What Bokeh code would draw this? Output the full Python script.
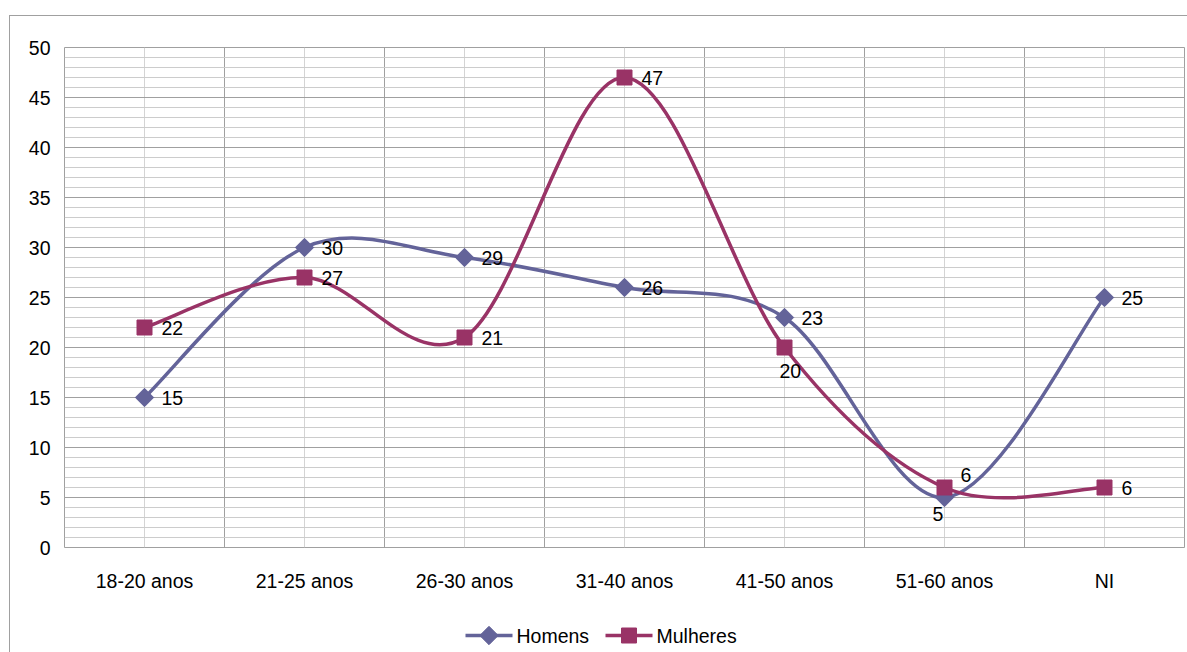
import numpy as np
from bokeh.plotting import figure
from bokeh.layouts import column
from bokeh.models import FixedTicker, ColumnDataSource
from bokeh.core.properties import value
from bokeh.embed import file_html
from bokeh.resources import INLINE

categories = ["18-20 anos", "21-25 anos", "26-30 anos", "31-40 anos", "41-50 anos", "51-60 anos", "NI"]
homens = [15, 30, 29, 26, 23, 5, 25]
mulheres = [22, 27, 21, 47, 20, 6, 6]
series_names = ["Homens", "Mulheres"]

# label offsets (screen px): default right of point
hom_dx = [17, 17, 17, 17, 17, -12, 17]
hom_dy = [0, 0, 0, 0, 0, 16, 0]
mul_dx = [17, 17, 17, 17, -5, 16, 17]
mul_dy = [0, 0, 0, 0, 23, -13, 0]

COL_H = "#636399"
COL_M = "#993366"
FONT = "Liberation Sans"
FS = "19.5px"
W = 1177
FRAME_W = 1120

xs = [i + 0.5 for i in range(len(categories))]

p = figure(width=W, height=600, x_range=(0, 7), y_range=(0, 50),
           output_backend="svg", toolbar_location=None,
           min_border_left=54, min_border_right=3, min_border_top=31, min_border_bottom=69)
p.background_fill_color = "white"
p.border_fill_color = "white"
p.outline_line_color = "#A0A0A0"
p.outline_line_width = 1

# axes
p.xaxis.ticker = FixedTicker(ticks=xs)
p.xaxis.major_label_overrides = {x: c for x, c in zip(xs, categories)}
p.yaxis.ticker = FixedTicker(ticks=list(range(0, 51, 5)))
for ax in (p.xaxis, p.yaxis):
    ax.axis_line_color = None
    ax.major_tick_line_color = None
    ax.minor_tick_line_color = None
    ax.major_tick_out = 0
    ax.major_tick_in = 0
    ax.major_label_text_font = FONT
    ax.major_label_text_font_size = FS
    ax.major_label_text_color = "black"
p.yaxis.major_label_standoff = 14
p.xaxis.major_label_standoff = 22

# grids
p.xgrid.ticker = FixedTicker(ticks=list(range(0, 8)), minor_ticks=xs)
p.xgrid.grid_line_color = "#A0A0A0"
p.xgrid.minor_grid_line_color = "#D4D4D4"
p.ygrid.ticker = FixedTicker(ticks=list(range(0, 51, 5)), minor_ticks=list(range(0, 51)))
p.ygrid.grid_line_color = "#A0A0A0"
p.ygrid.minor_grid_line_color = "#CCCCCC"


def bezier_source(xv, yv):
    P = np.column_stack([xv, yv]).astype(float)
    n = len(P)
    d = {k: [] for k in ("x0", "y0", "x1", "y1", "cx0", "cy0", "cx1", "cy1")}
    for i in range(n - 1):
        pm = P[i - 1] if i > 0 else P[i]
        p0 = P[i]
        p1 = P[i + 1]
        pp = P[i + 2] if i + 2 < n else P[i + 1]
        c0 = p0 + (p1 - pm) / 6.0
        c1 = p1 - (pp - p0) / 6.0
        d["x0"].append(p0[0]); d["y0"].append(p0[1])
        d["x1"].append(p1[0]); d["y1"].append(p1[1])
        d["cx0"].append(c0[0]); d["cy0"].append(c0[1])
        d["cx1"].append(c1[0]); d["cy1"].append(c1[1])
    return ColumnDataSource(d)


# legend strip (separate small figure; its frame is aligned with the main frame)
leg = figure(width=W, height=36, x_range=(0, FRAME_W), y_range=(0, 36),
             output_backend="svg", toolbar_location=None,
             x_axis_type=None, y_axis_type=None,
             min_border=0, min_border_left=0, min_border_right=0,
             min_border_top=0, min_border_bottom=0)
leg.outline_line_color = None
leg.grid.visible = False
leg.background_fill_color = "white"
leg.border_fill_color = "white"
LEG_X0 = [401, 541]   # start of each legend item (px from frame left)
LEG_Y = 17
GLW = 47

styles = [("square", 13, np.pi / 4), ("square", 15, 0.0)]
for k, (name, vals, col, dx, dy) in enumerate([
        ("Homens", homens, COL_H, hom_dx, hom_dy),
        ("Mulheres", mulheres, COL_M, mul_dx, mul_dy)]):
    marker, msize, angle = styles[k]
    p.bezier(x0="x0", y0="y0", x1="x1", y1="y1", cx0="cx0", cy0="cy0", cx1="cx1", cy1="cy1",
             source=bezier_source(xs, vals), line_color=col, line_width=3.5)
    p.scatter(x=xs, y=vals, marker=marker, size=msize, angle=angle,
              fill_color=col, line_color=col)
    p.text(x=xs, y=vals, text=[str(v) for v in vals], x_offset=dx, y_offset=dy,
           text_font=value(FONT), text_font_size=FS, text_color="black",
           text_align="left", text_baseline="middle")
    # legend entry
    x0 = LEG_X0[k]
    leg.line(x=[x0, x0 + GLW], y=[LEG_Y, LEG_Y], line_color=col, line_width=3.5)
    leg.scatter(x=[x0 + GLW / 2], y=[LEG_Y], marker=marker, size=msize, angle=angle,
                fill_color=col, line_color=col)
    leg.text(x=[x0 + GLW + 4], y=[LEG_Y], text=[series_names[k]],
             text_font=value(FONT), text_font_size=FS, text_color="black",
             text_align="left", text_baseline="middle")

layout = column(p, leg, spacing=0)
layout.margin = (15, 0, 0, 9)
layout.styles = {"border-left": "1px solid #A0A0A0", "border-top": "1px solid #A0A0A0"}

open("out.html", "w").write(file_html(layout, INLINE))
